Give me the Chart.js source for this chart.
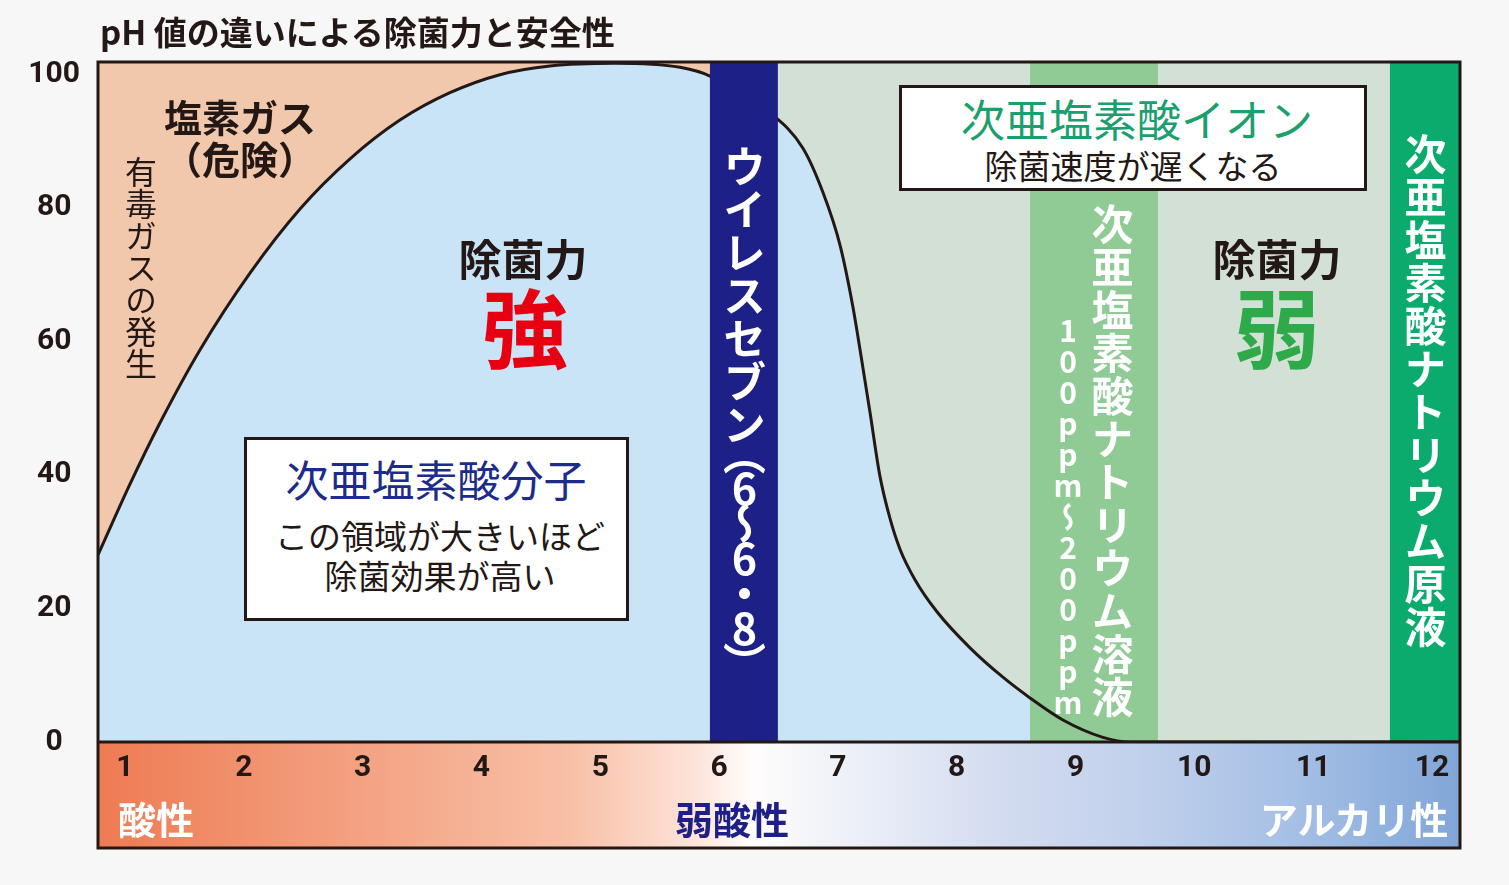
<!DOCTYPE html>
<html><head><meta charset="utf-8">
<script src="https://cdn.jsdelivr.net/npm/chart.js@4.4.0/dist/chart.umd.min.js"></script>
<style>
html,body{margin:0;padding:0;background:#f7f7f7;}
#wrap{position:relative;width:1509px;height:885px;overflow:hidden;font-family:"Noto Sans CJK JP","Noto Sans",sans-serif;color:#231815;}
#c{position:absolute;left:0;top:0;}
.t{position:absolute;white-space:nowrap;transform:translate(-50%,-50%);line-height:1;}
.v{position:absolute;writing-mode:vertical-rl;text-orientation:upright;white-space:nowrap;line-height:1;transform:translateX(-50%);}
.box{position:absolute;background:#fff;border:3px solid #231815;box-sizing:border-box;}
.b{font-weight:700;}
</style></head>
<body><div id="wrap">
<canvas id="c" width="1509" height="885"></canvas>

<div class="t b" style="left:100px;top:31px;transform:translate(0,-50%);font-size:33px;">pH 値の違いによる除菌力と安全性</div>

<div class="t b" style="left:240px;top:116px;font-size:38px;">塩素ガス</div>
<div class="t b" style="left:240px;top:158px;font-size:38px;">（危険）</div>
<div class="v" style="left:141px;top:156px;font-size:32px;">有毒ガスの発生</div>

<div class="t b" style="left:523px;top:257px;font-size:43px;">除菌力</div>
<div class="t b" style="left:525px;top:325px;font-size:86px;color:#e60012;">強</div>

<div class="box" style="left:244px;top:437px;width:385px;height:184px;"></div>
<div class="t" style="left:436px;top:478px;font-size:43px;color:#1d2b8a;">次亜塩素酸分子</div>
<div class="t" style="left:440px;top:535px;font-size:33px;">この領域が大きいほど</div>
<div class="t" style="left:440px;top:575px;font-size:33px;">除菌効果が高い</div>

<div class="v b" style="left:744px;top:145px;font-size:43px;color:#fff;">ウイレスセブン<span style="letter-spacing:-8px;margin-top:-14px;">（6～6・8）</span></div>

<div class="box" style="left:899px;top:85px;width:468px;height:106px;"></div>
<div class="t" style="left:1137px;top:118px;font-size:44px;color:#1aa06e;">次亜塩素酸イオン</div>
<div class="t" style="left:1133px;top:165px;font-size:33px;">除菌速度が遅くなる</div>

<div class="v b" style="left:1112px;top:203px;font-size:42px;color:#fff;letter-spacing:1px;">次亜塩素酸ナトリウム溶液</div>
<div class="v b" style="left:1068px;top:316px;font-size:30px;color:#fff;letter-spacing:1px;">100ppm～200ppm</div>

<div class="t b" style="left:1277px;top:257px;font-size:43px;">除菌力</div>
<div class="t b" style="left:1277px;top:325px;font-size:86px;color:#2eaa4a;">弱</div>

<div class="v b" style="left:1425px;top:133px;font-size:42px;color:#fff;letter-spacing:1px;">次亜塩素酸ナトリウム原液</div>

<div class="t b" style="left:156px;top:818px;font-size:38px;color:#fff;">酸性</div>
<div class="t b" style="left:732px;top:818px;font-size:38px;color:#1d2086;">弱酸性</div>
<div class="t b" style="left:1354px;top:818px;font-size:38px;color:#fff;">アルカリ性</div>
</div>
<script>
// ---- data ----
const phValues       = [0.773, 1.042, 1.295, 1.631, 2.052, 2.473, 2.894, 3.314, 3.735, 4.156, 4.577, 5.124, 5.671, 5.923, 6.428, 6.706, 6.874, 7.018, 7.127, 7.211, 7.270, 7.354, 7.438, 7.522, 7.649, 7.834, 8.112, 8.389, 8.617, 8.894, 9.231, 9.458, 12.236];
const strengthValues = [28.0, 38.6, 47.8, 58.7, 70.2, 79.8, 87.3, 93.1, 97.2, 99.9, 101.2, 101.6, 101.0, 99.7, 94.2, 88.9, 82.3, 74.4, 65.1, 56.0, 49.4, 39.8, 33.5, 28.9, 24.3, 19.5, 14.1, 9.7, 6.6, 3.3, 0.7, 0, 0];
const xTickValues = [1,2,3,4,5,6,7,8,9,10,11,12];
const yTickValues = [0,20,40,60,80,100];
const xMin = 0.773, xMax = 12.236, yMin = 0, yMax = 101.8;
const virusSevenRange = [5.923, 6.495];
const solutionRange   = [8.617, 9.694];
const stockRange      = [11.646, 12.236];

const C = {
  peach:'#f2c8ad', blue:'#c9e4f7', grayGreen:'#d3e0d6', navy:'#1d2086',
  lightGreen:'#90cb96', darkGreen:'#0aab6c', ink:'#231815'
};

const bgPlugin = {
  id:'bg',
  beforeDraw(chart){
    const {ctx, chartArea:a, scales:{x}} = chart;
    const g = ctx.createLinearGradient(a.left,0,a.right,0);
    g.addColorStop(0,'#ee7b53');
    g.addColorStop(0.2,'#f4a384');
    g.addColorStop(0.35,'#f8c1a8');
    g.addColorStop(0.44,'#fde4da');
    g.addColorStop(0.48,'#fffdfc');
    g.addColorStop(0.57,'#e9edf7');
    g.addColorStop(0.66,'#d3dcf0');
    g.addColorStop(0.76,'#c2d1ec');
    g.addColorStop(0.88,'#a5bfe5');
    g.addColorStop(1,'#80a6d8');
    ctx.save();
    ctx.fillStyle = g;
    ctx.fillRect(a.left, a.bottom, a.right-a.left, x.bottom-a.bottom);
    ctx.restore();
  },
  beforeDatasetsDraw(chart){
    const {ctx, chartArea:a, scales:{x}} = chart;
    ctx.save();
    ctx.fillStyle = C.peach;
    const p0 = x.getPixelForValue(xMin), p1 = x.getPixelForValue(virusSevenRange[0]);
    ctx.fillRect(p0, a.top, p1-p0, a.bottom-a.top);
    ctx.fillStyle = C.grayGreen;
    const q0 = x.getPixelForValue(virusSevenRange[1]), q1 = x.getPixelForValue(xMax);
    ctx.fillRect(q0, a.top, q1-q0, a.bottom-a.top);
    ctx.restore();
  },
  afterDatasetDraw(chart, args){
    if(args.index !== 1) return;   // after the fill dataset
    const {ctx, chartArea:a, scales:{x}} = chart;
    ctx.save();
    [[solutionRange, C.lightGreen],[stockRange, C.darkGreen]].forEach(([r,col])=>{
      const l = x.getPixelForValue(r[0]), rr = x.getPixelForValue(r[1]);
      ctx.fillStyle = col;
      ctx.fillRect(l, a.top, rr-l, a.bottom-a.top);
    });
    ctx.restore();
  },
  afterDatasetsDraw(chart){
    const {ctx, chartArea:a, scales:{x}} = chart;
    ctx.save();
    const l = x.getPixelForValue(virusSevenRange[0]), r = x.getPixelForValue(virusSevenRange[1]);
    ctx.fillStyle = C.navy;
    ctx.fillRect(l, a.top, r-l, a.bottom-a.top);
    ctx.restore();
  },
  afterDraw(chart){
    const {ctx, chartArea:a, scales:{x}} = chart;
    ctx.save();
    ctx.strokeStyle = C.ink; ctx.lineWidth = 3;
    ctx.strokeRect(a.left, a.top, a.right-a.left, x.bottom-a.top);
    ctx.beginPath(); ctx.moveTo(a.left, a.bottom); ctx.lineTo(a.right, a.bottom); ctx.stroke();
    ctx.restore();
  }
};

const pts = phValues.map((v,i)=>({x:v, y:strengthValues[i]}));
const numFont = {family:'Roboto, "Noto Sans", sans-serif', size:30, weight:'bold'};

new Chart(document.getElementById('c'), {
  type:'line',
  data:{datasets:[
    // index 0 is drawn last (on top): the curve line
    {data:pts, fill:false, borderColor:C.ink, borderWidth:3, pointRadius:0, cubicInterpolationMode:'monotone'},
    // index 1 drawn first: the light-blue area under the curve
    {data:pts, fill:'origin', backgroundColor:C.blue, borderWidth:0, borderColor:'rgba(0,0,0,0)', pointRadius:0, cubicInterpolationMode:'monotone'}
  ]},
  options:{
    responsive:false, animation:false, events:[],
    layout:{padding:{top:62,right:49,bottom:37,left:0}},
    plugins:{legend:{display:false}, tooltip:{enabled:false}},
    scales:{
      x:{type:'linear', min:xMin, max:xMax, grid:{display:false}, border:{display:false},
         afterBuildTicks:s=>{ s.ticks = xTickValues.map(v=>({value:v})); },
         afterFit:s=>{ s.height = 106; },
         ticks:{padding:0, font:numFont, color:C.ink, maxRotation:0, autoSkip:false}},
      y:{type:'linear', min:yMin, max:yMax, grid:{display:false}, border:{display:false},
         afterBuildTicks:s=>{ s.ticks = yTickValues.map(v=>({value:v})); },
         afterFit:s=>{ s.width = 98; },
         ticks:{padding:10, crossAlign:'center', font:numFont, color:C.ink}}
    }
  },
  plugins:[bgPlugin]
});
</script>
</body></html>
